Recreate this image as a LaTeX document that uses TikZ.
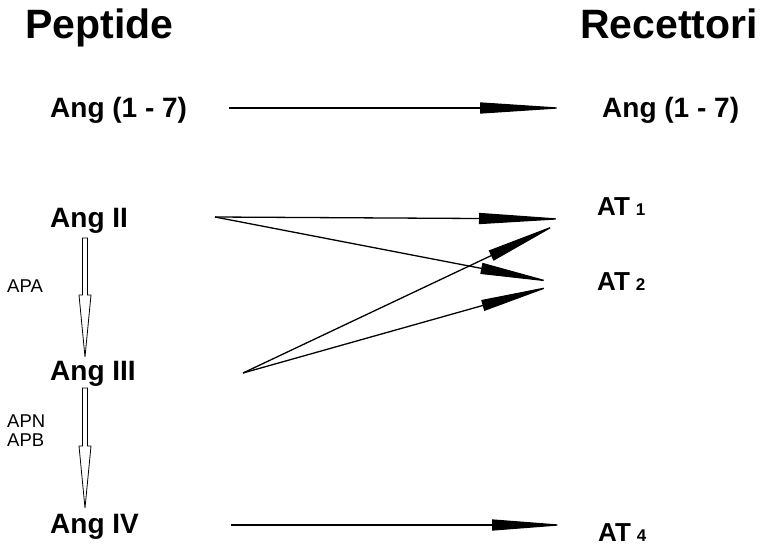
\documentclass[tikz,border=0pt]{standalone}
\usepackage{fontspec}
\setmainfont{Liberation Sans}
\usepackage{tikz}
\usetikzlibrary{arrows.meta}
\usetikzlibrary{calc}

\tikzset{
  titel/.style={font=\fontsize{41}{48}\selectfont\bfseries, inner sep=0pt, anchor=base west},
  peptid/.style={font=\fontsize{28}{33}\selectfont\bfseries, inner sep=0pt, anchor=base west},
  rezeptor/.style={font=\fontsize{26}{31}\selectfont\bfseries, inner sep=0pt, anchor=base west},
  enzym/.style={font=\fontsize{18.5}{22}\selectfont, inner sep=0pt, anchor=base west},
  pfeil/.style={line width=1.3pt, -{Triangle[length=#1, width=11pt]}},
  pfeil/.default=75pt,
  hohl/.style={line width=0.8pt, fill=white},
}

\newcommand{\klein}[1]{{\fontsize{17}{20}\selectfont #1}}
\newcommand{\hohlpfeil}[2]{%
  \draw[hohl] let \p1=(#1), \p2=(#2) in
    (\x1-2.5pt,\y1) -- (\x1+2.5pt,\y1) -- (\x1+2.5pt,\y2+62pt) -- (\x1+6pt,\y2+62pt)
    -- (\x2,\y2) -- (\x1-6pt,\y2+62pt) -- (\x1-2.5pt,\y2+62pt) -- cycle;}

\begin{document}
\begin{tikzpicture}[x=1pt, y=-1pt]
      \useasboundingbox (0,0) rectangle (762,545);

      % Spaltenkoepfe
      \node[titel] (peptide) at (25,39) {Peptide};
      \node[titel] (recettori) at (580,39) {Recettori};

      % Peptide
      \node[peptid] (ang17) at (50,118) {Ang (1 - 7)};
      \node[peptid] (ang2) at (50,228) {Ang II};
      \node[peptid] (ang3) at (50,380) {Ang III};
      \node[peptid] (ang4) at (50,533) {Ang IV};

      % Recettori
      \node[peptid] (r17) at (602,118) {Ang (1 - 7)};
      \node[rezeptor] (at1) at (597,215) {AT\hspace{6pt}\klein{1}};
      \node[rezeptor] (at2) at (597,290) {AT\hspace{6pt}\klein{2}};
      \node[rezeptor] (at4) at (598,541) {AT\hspace{6pt}\klein{4}};

      % Enzyme
      \node[enzym] (apa) at (7,292) {APA};
      \node[enzym] (apn) at (7,427) {APN};
      \node[enzym] (apb) at (7,446) {APB};

      % Anfangs- und Endpunkte
      \coordinate (s17) at (229,108);
      \coordinate (e17) at (567,108);
      \coordinate (s2) at (215,217);
      \coordinate (s3) at (243,373);
      \coordinate (s4) at (231,525);
      \coordinate (e4) at (566,525);
      \coordinate (t1a) at (566,219);
      \coordinate (t1b) at (558,224);
      \coordinate (t2a) at (552,282);
      \coordinate (t2b) at (552,286);

      \draw[pfeil=87pt] (s17) -- (e17);
      \draw[pfeil=87pt] (s2) -- (t1a);
      \draw[pfeil=72pt] (s2) -- (t2a);
      \draw[pfeil=74pt] (s3) -- (t1b);
      \draw[pfeil=72pt] (s3) -- (t2b);
      \draw[pfeil=74pt] (s4) -- (e4);

      % Abbau
      \coordinate (h2) at (85,238);
      \coordinate (h3) at (85,357);
      \coordinate (h3b) at (85,388);
      \coordinate (h4) at (85,508);
      \hohlpfeil{h2}{h3}
      \hohlpfeil{h3b}{h4}

    \end{tikzpicture}
\end{document}
